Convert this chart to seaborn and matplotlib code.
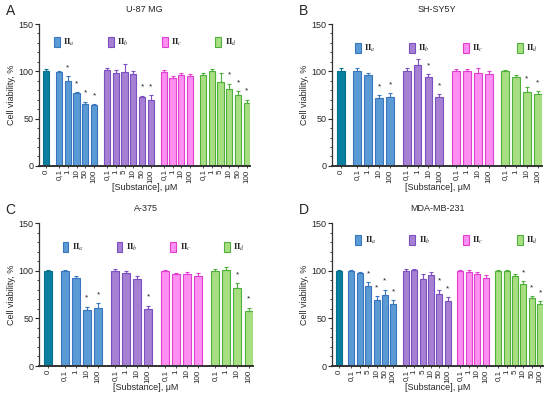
import numpy as np
import pandas as pd
import seaborn as sns
import matplotlib
matplotlib.use('Agg')
import matplotlib.pyplot as plt
from matplotlib.patches import Patch
from matplotlib.ticker import MultipleLocator

# --- data (mean, SEM) ---
groups = ['IIa', 'IIb', 'IIc', 'IId']
group_letters = ['a', 'b', 'c', 'd']

# A: U-87 MG
A_ctrl = (100, 2)
A_doses = [['0,1', '1', '10', '50', '100'],
           ['0,1', '1', '5', '10', '50', '100'],
           ['0,1', '1', '10', '100'],
           ['0,1', '1', '5', '10', '50', '100']]
A_vals = [[99, 90, 77, 65, 64], [101, 98, 99, 97, 73, 70], [99, 93, 96, 95], [96, 100, 89, 81, 75, 67]]
A_errs = [[1, 5, 1, 3, 1], [3, 3, 9, 3, 1, 5], [2, 2, 2, 2], [2, 2, 9, 6, 4, 3]]
A_sig = [[0, 1, 1, 1, 1], [0, 0, 0, 0, 1, 1], [0, 0, 0, 0], [0, 0, 0, 1, 1, 1]]

# B: SH-SY5Y
B_ctrl = (100, 4)
B_doses = [['0,1', '1', '10', '100']] * 4
B_vals = [[100, 96, 72, 73], [100, 107, 94, 73], [100, 100, 98, 97], [100, 94, 78, 76]]
B_errs = [[4, 2, 3, 4], [4, 6, 3, 3], [2, 2, 5, 3], [1, 2, 5, 3]]
B_sig = [[0, 0, 1, 1], [0, 0, 1, 1], [0, 0, 0, 0], [0, 0, 1, 1]]

# C: A-375
C_ctrl = (100, 1)
C_doses = [['0,1', '1', '10', '100']] * 4
C_vals = [[100, 92, 59, 61], [100, 98, 91, 60], [100, 96, 97, 94], [100, 101, 82, 58]]
C_errs = [[1, 2, 3, 5], [2, 2, 3, 3], [1, 2, 2, 4], [2, 3, 5, 3]]
C_sig = [[0, 0, 1, 1], [0, 0, 0, 1], [0, 0, 0, 0], [0, 0, 1, 1]]

# D: MDA-MB-231
D_ctrl = (100, 1)
D_doses = [['0,1', '1', '5', '10', '50', '100'],
           ['0,1', '1', '5', '10', '50', '100'],
           ['0,1', '1', '10', '100'],
           ['0,1', '1', '5', '10', '50', '100']]
D_vals = [[100, 98, 84, 69, 75, 65], [100, 101, 91, 95, 76, 68], [100, 99, 97, 92], [100, 100, 94, 86, 71, 65]]
D_errs = [[1, 1, 4, 4, 5, 4], [2, 1, 6, 4, 4, 4], [1, 2, 2, 3], [1, 1, 3, 3, 2, 3]]
D_sig = [[0, 0, 1, 1, 1, 1], [0, 0, 0, 0, 1, 1], [0, 0, 0, 0], [0, 0, 0, 1, 1, 1]]

fills = {'ctrl': '#0a7fa0', 'IIa': '#5b9bd5', 'IIb': '#a680d2', 'IIc': '#ff8ff0', 'IId': '#a8de82'}
edges = {'ctrl': '#07708c', 'IIa': '#3a76c0', 'IIb': '#7c50c0', 'IIc': '#e040d0', 'IId': '#4fb03c'}

sns.set_theme(style='ticks')
plt.rcParams['font.family'] = ['Liberation Sans', 'DejaVu Sans']
plt.rcParams['mathtext.fontset'] = 'stix'


def build(ctrl, doses, vals, errs, sig):
    rows = [dict(pos=0.0, label='0', value=ctrl[0], err=ctrl[1], sig=0, group='ctrl')]
    pos = 0.0
    for g, d, v, e, s in zip(groups, doses, vals, errs, sig):
        pos += 1.5
        for i in range(len(d)):
            rows.append(dict(pos=pos, label=d[i], value=v[i], err=e[i], sig=s[i], group=g))
            pos += 1
        pos -= 1
    return pd.DataFrame(rows)


def draw_panel(ax, df, title, letter, leg_anchor):
    for grp, sub in df.groupby('group', sort=False):
        sns.barplot(data=sub, x='pos', y='value', native_scale=True, width=0.72,
                    color=fills[grp], edgecolor=edges[grp], linewidth=0.8,
                    saturation=1, errorbar=None, ax=ax)
        ax.errorbar(sub['pos'], sub['value'], yerr=[np.zeros(len(sub)), sub['err']],
                    fmt='none', ecolor=edges[grp], elinewidth=0.8, capsize=1.6, capthick=0.8)
        for _, r in sub[sub['sig'] == 1].iterrows():
            ax.text(r['pos'], r['value'] + r['err'] + 9, '*', ha='center', va='center',
                    fontsize=6, color='#222222')

    ax.set_xticks(df['pos'])
    ax.set_xticklabels(df['label'], rotation=90, fontsize=5.8)
    ax.set_xlim(-0.8, df['pos'].max() + 0.4)
    ax.set_ylim(0, 150)
    ax.yaxis.set_major_locator(MultipleLocator(50))
    ax.yaxis.set_minor_locator(MultipleLocator(10))
    ax.tick_params(axis='y', labelsize=6.5, length=3, width=0.8, pad=1)
    ax.tick_params(axis='y', which='minor', length=1.6, width=0.6)
    ax.tick_params(axis='x', length=1.5, width=0.6, pad=1)
    for sp in ['left', 'bottom']:
        ax.spines[sp].set_linewidth(0.9)
        ax.spines[sp].set_color('#333333')
    ax.spines['bottom'].set_linewidth(1.4)
    sns.despine(ax=ax)

    ax.set_xlabel('[Substance], μM', fontsize=6.5, labelpad=0.5)
    ax.set_ylabel('Cell viability, %', fontsize=6.5, labelpad=2)
    ax.set_title(title, fontsize=6.5, pad=9)
    ax.text(-0.135, 1.09, letter, transform=ax.transAxes, fontsize=10, ha='center', va='center')

    handles = [Patch(facecolor=fills[g], edgecolor=edges[g], linewidth=0.8,
                     label=r'$\mathbf{II}_{\mathit{%s}}$' % l)
               for g, l in zip(groups, group_letters)]
    ax.legend(handles=handles, ncol=4, loc='center left', bbox_to_anchor=leg_anchor,
              frameon=False, fontsize=6, handlelength=0.7, handleheight=1.4,
              handletextpad=0.4, columnspacing=4.0, borderpad=0, borderaxespad=0)


fig = plt.figure(figsize=(5.5, 3.94), dpi=100)
ax_a = fig.add_axes([0.071, 0.579, 0.384, 0.360])
ax_b = fig.add_axes([0.604, 0.579, 0.382, 0.360])
ax_c = fig.add_axes([0.071, 0.071, 0.389, 0.363])
ax_d = fig.add_axes([0.604, 0.071, 0.384, 0.363])

draw_panel(ax_a, build(A_ctrl, A_doses, A_vals, A_errs, A_sig), 'U-87 MG', 'A', (0.07, 0.87))
draw_panel(ax_b, build(B_ctrl, B_doses, B_vals, B_errs, B_sig), 'SH-SY5Y', 'B', (0.11, 0.83))
draw_panel(ax_c, build(C_ctrl, C_doses, C_vals, C_errs, C_sig), 'A-375', 'C', (0.11, 0.83))
draw_panel(ax_d, build(D_ctrl, D_doses, D_vals, D_errs, D_sig), 'MDA-MB-231', 'D', (0.11, 0.88))

fig.savefig('out.png', dpi=100)
